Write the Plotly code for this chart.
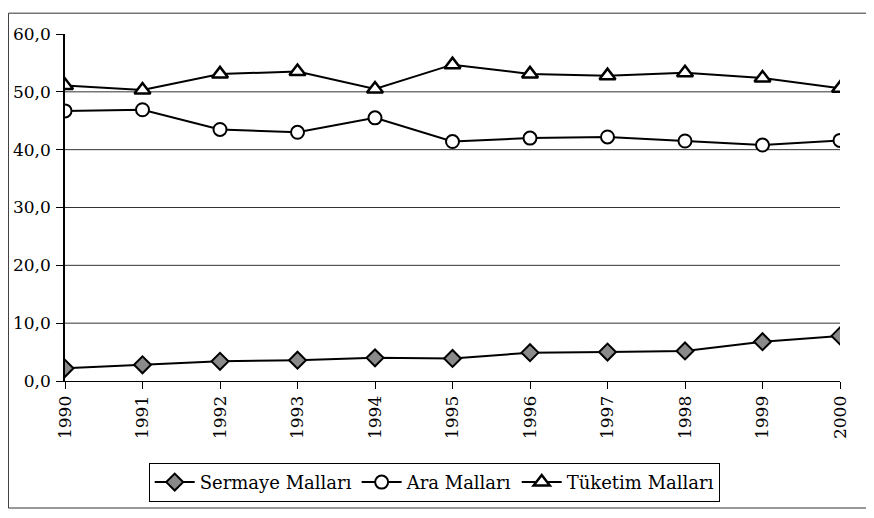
import plotly.graph_objects as go

years = [1990, 1991, 1992, 1993, 1994, 1995, 1996, 1997, 1998, 1999, 2000]
sermaye = [2.2, 2.8, 3.4, 3.6, 4.0, 3.9, 4.9, 5.0, 5.2, 6.8, 7.8]
ara = [46.7, 46.9, 43.5, 43.0, 45.5, 41.4, 42.0, 42.2, 41.5, 40.8, 41.6]
tuketim = [51.1, 50.3, 53.1, 53.5, 50.5, 54.7, 53.1, 52.8, 53.3, 52.4, 50.6]
series_names = ["Sermaye Malları", "Ara Malları", "Tüketim Malları"]
y_ticks = [0, 10, 20, 30, 40, 50, 60]
grid_levels = [10, 20, 30, 40, 50]

FONT = "DejaVu Serif"

fig = go.Figure()
fig.add_trace(go.Scatter(
    x=years, y=sermaye, name=series_names[0], mode="lines+markers",
    line=dict(color="black", width=2),
    marker=dict(symbol="diamond", size=13, color="#8a8a8a",
                line=dict(color="black", width=2)),
))
fig.add_trace(go.Scatter(
    x=years, y=ara, name=series_names[1], mode="lines+markers",
    line=dict(color="black", width=2),
    marker=dict(symbol="circle", size=13, color="white",
                line=dict(color="black", width=2)),
))
fig.add_trace(go.Scatter(
    x=years, y=tuketim, name=series_names[2], mode="lines+markers",
    line=dict(color="black", width=2),
    marker=dict(symbol="triangle-up", size=14, color="white",
                line=dict(color="black", width=2.5)),
))

for g in grid_levels:
    fig.add_shape(type="line", xref="x", yref="y", x0=years[0], x1=years[-1],
                  y0=g, y1=g, line=dict(color="#333", width=1), layer="below")

# outer chart frame
fig.add_shape(type="rect", xref="paper", yref="paper",
              x0=-0.073, x1=1.049, y0=-0.366, y1=1.06,
              line=dict(color="#333", width=1))

fig.update_layout(
    width=874, height=518,
    margin=dict(l=57, r=42, t=26, b=145),
    paper_bgcolor="white", plot_bgcolor="white",
    separators=", ",
    font=dict(family=FONT, size=17, color="black"),
    showlegend=True,
    legend=dict(orientation="h", x=0.108, y=-0.236, xanchor="left", yanchor="top",
                bordercolor="black", borderwidth=1, bgcolor="white",
                font=dict(family=FONT, size=18), itemwidth=40,
                tracegroupgap=0),
    xaxis=dict(range=[years[0], years[-1]], tickvals=years, ticktext=[str(y) for y in years],
               tickangle=-90, showgrid=False, zeroline=False, automargin=False,
               showline=True, linecolor="black", linewidth=1,
               ticks="outside", ticklen=7, tickcolor="black",
               tickfont=dict(family=FONT, size=17)),
    yaxis=dict(range=[0, 60], tickvals=y_ticks, tickformat=".1f",
               showgrid=False, zeroline=False, automargin=False,
               showline=True, linecolor="black", linewidth=1.5,
               ticks="outside", ticklen=7, tickcolor="black",
               ticklabelstandoff=2,
               tickfont=dict(family=FONT, size=17)),
)

fig.write_html("out.html")
